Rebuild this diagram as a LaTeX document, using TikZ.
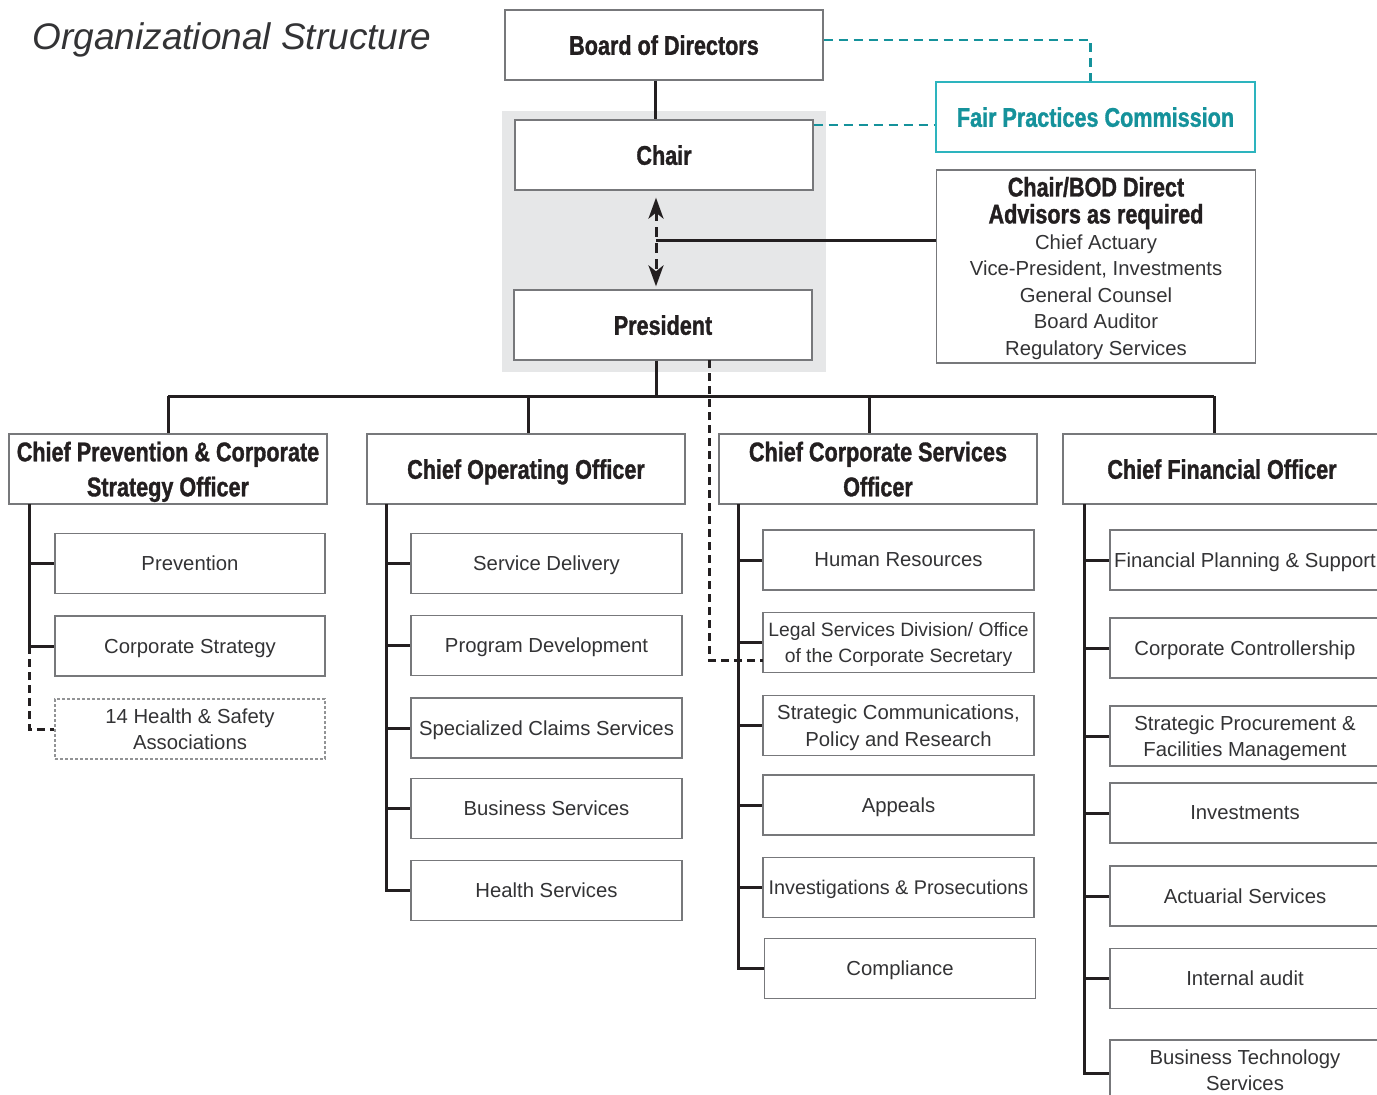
\documentclass[tikz,border=0pt]{standalone}
\usepackage{fontspec}
\setmainfont{Liberation Sans}
\newfontfamily\condbold[FakeStretch=0.8,FakeBold=1.2]{Liberation Sans Bold}
\usetikzlibrary{arrows.meta}
\definecolor{ink}{HTML}{231F20}
\definecolor{txt}{HTML}{333335}
\definecolor{boxgray}{HTML}{77787B}
\definecolor{tealt}{HTML}{15929B}
\definecolor{tealb}{HTML}{2DB4BE}
\definecolor{bggray}{HTML}{E6E7E8}
\tikzset{
  box/.style={draw=boxgray, line width=1.3pt, fill=white, inner sep=0pt, align=center},
  headbox/.style={box, minimum width=318pt, minimum height=70pt, text=ink, text depth=0pt,
    font=\condbold\fontsize{27}{35}\selectfont},
  ceobox/.style={headbox, minimum width=298pt},
  subbox/.style={box, minimum width=271pt, minimum height=60pt, text=txt, text depth=0pt,
    font=\fontsize{20.3}{26.5}\selectfont},
  conn/.style={draw=ink, line width=3pt},
  dconn/.style={draw=ink, line width=3pt, dash pattern=on 8pt off 5pt},
  teald/.style={draw=tealt, line width=2.2pt, dash pattern=on 9pt off 6pt},
  plain/.style={inner sep=0pt, align=center}
}
\begin{document}
\begin{tikzpicture}[x=1pt,y=-1pt]
\clip (0,0) rectangle (1377,1095);
\fill[white] (0,0) rectangle (1377,1095);

% title
\node[plain, text=txt, font=\itshape\fontsize{37}{40}\selectfont] (title) at (232,40) {Organizational Structure};

% grey band behind Chair / President
\fill[bggray] (502,111) rectangle (826,372);

% top level
\node[headbox] (bod) at (664,45) {Board of Directors};
\node[ceobox] (chair) at (664,155) {Chair};
\node[ceobox] (pres) at (663,325) {President};
\node[headbox, draw=tealb, text=tealt, minimum width=319pt] (fpc) at (1095.5,117) {Fair Practices Commission};
\node[box, minimum width=319pt, minimum height=193pt] (adv) at (1096,266.5) {};
\node[plain, text=ink, font=\condbold\fontsize{27}{27}\selectfont] (advt) at (1096,203) {Chair/BOD Direct\\Advisors as required};
\node[plain, text=txt, font=\fontsize{20.3}{26.5}\selectfont] (advl) at (1096,297) {Chief Actuary\\Vice-President, Investments\\General Counsel\\Board Auditor\\Regulatory Services};

% second level
\node[headbox] (cpcso) at (168,469) {Chief Prevention \& Corporate\\Strategy Officer};
\node[headbox] (coo) at (526,469) {Chief Operating Officer};
\node[headbox] (ccso) at (878,469) {Chief Corporate Services\\Officer};
\node[headbox] (cfo) at (1222,469) {Chief Financial Officer};

% column 1
\node[subbox, minimum width=270pt] (prev) at (190,563.5) {Prevention};
\node[subbox, minimum width=270pt] (cstrat) at (190,646) {Corporate Strategy};
\node[subbox, minimum width=270pt, draw=boxgray!80, dash pattern=on 3pt off 2pt] (hsa) at (190,729) {14 Health \& Safety\\Associations};

% column 2
\node[subbox] (sd) at (546.5,563.5) {Service Delivery};
\node[subbox] (pd) at (546.5,645.5) {Program Development};
\node[subbox] (scs) at (546.5,728) {Specialized Claims Services};
\node[subbox] (bs) at (546.5,808.5) {Business Services};
\node[subbox] (hs) at (546.5,890.5) {Health Services};

% column 3
\node[subbox] (hr) at (898.5,560) {Human Resources};
\node[subbox, font=\fontsize{19.3}{26.5}\selectfont] (legal) at (898.5,642.5) {Legal Services Division/ Office\\of the Corporate Secretary};
\node[subbox] (scr) at (898.5,725.5) {Strategic Communications,\\Policy and Research};
\node[subbox] (app) at (898.5,805) {Appeals};
\node[subbox, font=\fontsize{19.8}{26.5}\selectfont] (inv) at (898.5,887.5) {Investigations \& Prosecutions};
\node[subbox] (comp) at (900,968.5) {Compliance};

% column 4
\node[subbox, minimum width=270pt] (fps) at (1245,560) {Financial Planning \& Support};
\node[subbox, minimum width=270pt] (cc) at (1245,648) {Corporate Controllership};
\node[subbox, minimum width=270pt] (spf) at (1245,736) {Strategic Procurement \&\\Facilities Management};
\node[subbox, minimum width=270pt] (inv2) at (1245,813) {Investments};
\node[subbox, minimum width=270pt] (act) at (1245,896) {Actuarial Services};
\node[subbox, minimum width=270pt] (ia) at (1245,978.5) {Internal audit};
\node[subbox, minimum width=270pt] (bts) at (1245,1070) {Business Technology\\Services};

% top connectors
\draw[conn] ([xshift=-9pt]bod.south) -- ([xshift=-9pt]chair.north);
\draw[draw=ink, line width=3pt, dash pattern=on 10pt off 6pt,
  {Stealth[length=21pt,width=15pt,inset=6pt]}-{Stealth[length=21pt,width=15pt,inset=6pt]}]
  ([xshift=-8pt,yshift=-7pt]chair.south) -- ([xshift=-7pt,yshift=3pt]pres.north);
\coordinate (am) at (656,240);
\draw[conn] (am) -- (am -| adv.west);
\draw[teald] ([yshift=5pt]bod.east) -| ([xshift=-5pt]fpc.north);
\draw[teald] ([yshift=30pt]chair.east) -- ([yshift=30pt]chair.east -| fpc.west);

% bus to second level
\coordinate (bus) at (656,396);
\coordinate (d1) at (168,396);
\coordinate (d2) at (528,396);
\coordinate (d3) at (869,396);
\coordinate (d4) at (1214,396);
\draw[conn] (bus |- pres.south) -- (bus);
\draw[conn] (d1) -- (d4);
\draw[conn] (d1) -- (d1 |- cpcso.north);
\draw[conn] (d2) -- (d2 |- coo.north);
\draw[conn] (d3) -- (d3 |- ccso.north);
\draw[conn] (d4) -- (d4 |- cfo.north);

% president to legal (dashed)
\coordinate (ld) at (709,360);
\coordinate (lg) at (763,660);
\draw[dconn] (ld) |- (lg);

% spines
\coordinate (s1) at (29,504);
\draw[conn] (s1) |- (prev.west);
\draw[conn] (s1) |- (cstrat.west);
\draw[dconn] (cstrat.west -| s1) |- (hsa.west);

\coordinate (s2) at (386,504);
\foreach \n in {sd,pd,scs,bs,hs} \draw[conn] (s2) |- (\n.west);

\coordinate (s3) at (738,504);
\foreach \n in {hr,legal,scr,app,inv,comp} \draw[conn] (s3) |- (\n.west);

\coordinate (s4) at (1084,504);
\foreach \n in {fps,cc,spf,inv2,act,ia} \draw[conn] (s4) |- (\n.west);
\draw[conn] (s4) |- ([yshift=-3pt]bts.west);
\end{tikzpicture}
\end{document}
